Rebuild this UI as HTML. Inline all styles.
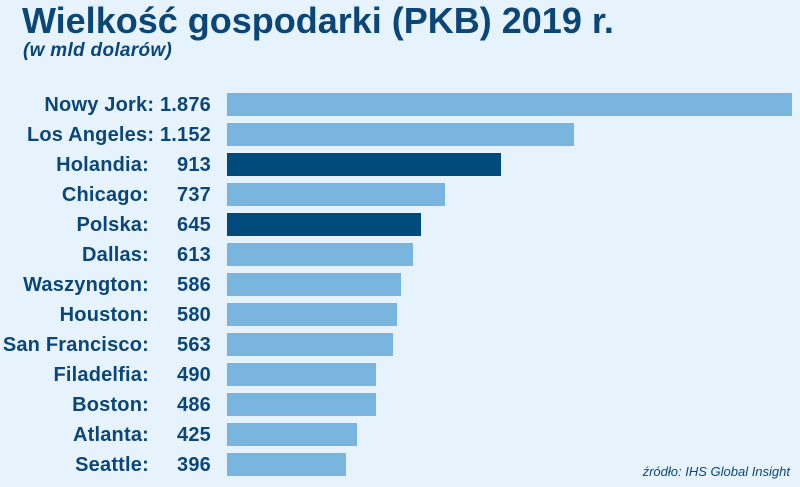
<!DOCTYPE html><html><head><meta charset="utf-8"><style>
body{margin:0;width:800px;height:487px;background:#e6f3fd;font-family:"Liberation Sans",sans-serif;color:#0b4676;position:relative;overflow:hidden}
.t{position:absolute;left:22px;top:0px;font-size:36px;font-weight:bold;letter-spacing:0px}
.s{position:absolute;left:23px;top:40px;font-size:19px;font-style:italic;font-weight:bold;letter-spacing:0.3px}
.r{position:absolute;left:0;height:24px;width:800px;font-size:20px;font-weight:bold;line-height:24px;letter-spacing:0.2px}
.n{position:absolute;right:651px;white-space:nowrap}
.v{position:absolute;right:589px}
.b{position:absolute;left:227px;top:0;height:23px;background:#7ab5e0}
.d{background:#004a7c}
.src{position:absolute;right:10px;top:464px;font-size:13px;font-style:italic}
</style></head><body>
<div class="t">Wielkość gospodarki (PKB) 2019 r.</div>
<div class="s">(w mld dolarów)</div>
<div class="r" style="top:93px"><span class="n" style="right:589px">Nowy Jork: 1.876</span><div class="b" style="width:565px"></div></div>
<div class="r" style="top:123px"><span class="n" style="right:589px">Los Angeles: 1.152</span><div class="b" style="width:347px"></div></div>
<div class="r" style="top:153px"><span class="n">Holandia:</span><span class="v">913</span><div class="b d" style="width:274px"></div></div>
<div class="r" style="top:183px"><span class="n">Chicago:</span><span class="v">737</span><div class="b" style="width:218px"></div></div>
<div class="r" style="top:213px"><span class="n">Polska:</span><span class="v">645</span><div class="b d" style="width:194px"></div></div>
<div class="r" style="top:243px"><span class="n">Dallas:</span><span class="v">613</span><div class="b" style="width:186px"></div></div>
<div class="r" style="top:273px"><span class="n">Waszyngton:</span><span class="v">586</span><div class="b" style="width:174px"></div></div>
<div class="r" style="top:303px"><span class="n">Houston:</span><span class="v">580</span><div class="b" style="width:170px"></div></div>
<div class="r" style="top:333px"><span class="n">San Francisco:</span><span class="v">563</span><div class="b" style="width:166px"></div></div>
<div class="r" style="top:363px"><span class="n">Filadelfia:</span><span class="v">490</span><div class="b" style="width:149px"></div></div>
<div class="r" style="top:393px"><span class="n">Boston:</span><span class="v">486</span><div class="b" style="width:149px"></div></div>
<div class="r" style="top:423px"><span class="n">Atlanta:</span><span class="v">425</span><div class="b" style="width:130px"></div></div>
<div class="r" style="top:453px"><span class="n">Seattle:</span><span class="v">396</span><div class="b" style="width:119px"></div></div>
<div class="src">źródło: IHS Global Insight</div>
</body></html>
